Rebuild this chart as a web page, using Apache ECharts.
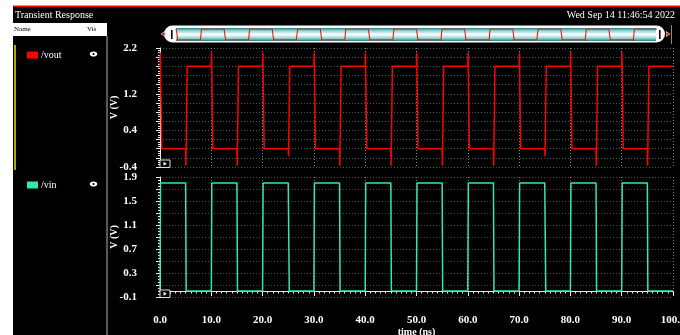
<!DOCTYPE html>
<html>
<head>
<meta charset="utf-8">
<script src="https://cdn.jsdelivr.net/npm/echarts@6/dist/echarts.min.js"></script>
<style>
html,body{margin:0;padding:0;background:#fff;}
#chart{width:680px;height:335px;}
</style>
</head>
<body>
<div id="chart"></div>
<script>
// ---- data ----
const titleText = 'Transient Response';
const dateText = 'Wed Sep 14 11:46:54 2022';
const seriesNames = ['/vout', '/vin'];
const timeTicks = [0, 10, 20, 30, 40, 50, 60, 70, 80, 90, 100];
const voutTicks = [2.2, 1.2, 0.4, -0.4];
const vinTicks = [1.9, 1.5, 1.1, 0.7, 0.3, -0.1];

// /vout (V) vs time (ns)
const voutT = [0, 0.05, 0.2, 0.35, 5, 5.05, 5.3, 10, 10.05, 10.3, 15, 15.05, 15.3, 20, 20.05, 20.3,
  25, 25.05, 25.3, 30, 30.05, 30.3, 35, 35.05, 35.3, 40, 40.05, 40.3, 45, 45.05, 45.3,
  50, 50.05, 50.3, 55, 55.05, 55.3, 60, 60.05, 60.3, 65, 65.05, 65.3, 70, 70.05, 70.3,
  75, 75.05, 75.3, 80, 80.05, 80.3, 85, 85.05, 85.3, 90, 90.05, 90.3, 95, 95.05, 95.3, 100];
const voutV = [1.8, 2.1, 1.0, 0, 0, -0.37, 1.8, 1.8, 2.1, 0, 0, -0.37, 1.8, 1.8, 2.1, 0,
  0, -0.17, 1.8, 1.8, 2.1, 0, 0, -0.37, 1.8, 1.8, 2.1, 0, 0, -0.37, 1.8,
  1.8, 2.1, 0, 0, -0.37, 1.8, 1.8, 2.1, 0, 0, -0.37, 1.8, 1.8, 2.1, 0,
  0, -0.17, 1.8, 1.8, 2.11, 0, 0, -0.37, 1.8, 1.8, 2.11, 0, 0, -0.37, 1.8, 1.8];

// /vin (V) vs time (ns)
const vinT = [0, 0.1, 5, 5.1, 10, 10.1, 15, 15.1, 20, 20.1, 25, 25.1, 25.2, 30, 30.1, 35, 35.1,
  40, 40.1, 45, 45.1, 50, 50.1, 55, 55.1, 60, 60.1, 65, 65.1, 70, 70.1, 75, 75.1, 75.2,
  80, 80.1, 85, 85.1, 90, 90.1, 95, 95.1, 100];
const vinV = [0, 1.8, 1.8, 0, 0, 1.8, 1.8, 0, 0, 1.8, 1.8, 0.9, 0, 0, 1.8, 1.8, 0,
  0, 1.8, 1.8, 0, 0, 1.8, 1.8, 0, 0, 1.8, 1.8, 0, 0, 1.8, 1.8, 0.9, 0,
  0, 1.8, 1.8, 0, 0, 1.8, 1.8, 0, 0];

const zip = (a, b) => a.map((t, i) => [t, b[i]]);
const voutData = zip(voutT, voutV);
const vinData = zip(vinT, vinV);

const RED = '#ff0000';
const CYAN = '#2fe8b8';
const FONT = "'Liberation Serif','DejaVu Serif',serif";

function pick(list) {
  return function (v) {
    const r = Math.round(v * 10) / 10;
    return list.some(x => Math.abs(x - r) < 1e-6) ? r.toFixed(1) : '';
  };
}

const chart = echarts.init(document.getElementById('chart'), null, {renderer: 'canvas'});

const yCommon = {
  type: 'value',
  offset: 10,
  axisLine: {show: true, lineStyle: {color: '#e8e8e8', width: 1}},
  axisTick: {show: true, length: 4, lineStyle: {color: '#e8e8e8'}},
  minorTick: {show: true, splitNumber: 4, length: 2, lineStyle: {color: '#e8e8e8'}},
  axisLabel: {color: '#fff', fontFamily: FONT, fontWeight: 'bold', fontSize: 11, margin: 13},
  name: 'V (V)',
  nameLocation: 'middle',
  nameGap: 31,
  nameMoveOverlap: false,
  nameTextStyle: {color: '#fff', fontFamily: FONT, fontWeight: 'bold', fontSize: 10}
};

const option = {
  animation: false,
  backgroundColor: '#ffffff',
  graphic: [
    {type: 'rect', silent: true, z: -10, shape: {x: 13, y: 7, width: 667, height: 328}, style: {fill: '#000'}},
    {type: 'line', silent: true, shape: {x1: 13, y1: 6.3, x2: 680, y2: 6.3}, style: {stroke: RED, lineWidth: 1.5}},
    {type: 'text', silent: true, style: {text: titleText, x: 15, y: 15, fill: '#fff', font: '10px ' + FONT, verticalAlign: 'middle'}},
    {type: 'text', silent: true, style: {text: dateText, x: 675, y: 15, fill: '#fff', font: '10px ' + FONT, align: 'right', verticalAlign: 'middle'}},
    {type: 'rect', silent: true, shape: {x: 13, y: 23, width: 94, height: 13}, style: {fill: '#fff'}},
    {type: 'text', silent: true, style: {text: 'Name', x: 14, y: 29.5, fill: '#000', font: '7px ' + FONT, verticalAlign: 'middle'}},
    {type: 'text', silent: true, style: {text: 'Vis', x: 87, y: 29.5, fill: '#000', font: '7px ' + FONT, verticalAlign: 'middle'}},
    {type: 'line', silent: true, shape: {x1: 107, y1: 36, x2: 107, y2: 335}, style: {stroke: '#b0b0b0', lineWidth: 1}},
    {type: 'line', silent: true, shape: {x1: 15, y1: 45, x2: 15, y2: 170}, style: {stroke: '#e6e600', lineWidth: 1.5}},
    // eye icons
    {type: 'ellipse', silent: true, shape: {cx: 93.5, cy: 54, rx: 3.8, ry: 2.6}, style: {fill: '#fff'}},
    {type: 'circle', silent: true, shape: {cx: 93.5, cy: 54, r: 1.1}, style: {fill: '#000'}},
    {type: 'ellipse', silent: true, shape: {cx: 93.5, cy: 184, rx: 3.8, ry: 2.6}, style: {fill: '#fff'}},
    {type: 'circle', silent: true, shape: {cx: 93.5, cy: 184, r: 1.1}, style: {fill: '#000'}},
    // scrollbar frame
    {type: 'rect', silent: true, z: -5, shape: {x: 164, y: 25.5, width: 501, height: 17, r: 8.5}, style: {fill: '#fff'}},
    {type: 'rect', silent: true, z: -4, shape: {x: 176, y: 28, width: 480, height: 13},
      style: {fill: new echarts.graphic.LinearGradient(0, 0, 0, 1, [
        {offset: 0, color: '#2c7a80'}, {offset: 0.22, color: '#8ed8d8'},
        {offset: 0.5, color: '#ffffff'}, {offset: 0.78, color: '#8ed8d8'}, {offset: 1, color: '#2c7a80'}])}},
    {type: 'rect', silent: true, shape: {x: 171, y: 30, width: 1.6, height: 9}, style: {fill: '#000'}},
    {type: 'rect', silent: true, shape: {x: 659, y: 30, width: 1.6, height: 9}, style: {fill: '#000'}},
    {type: 'polygon', silent: true, shape: {points: [[160.5, 34], [165, 31], [165, 37]]}, style: {fill: '#d0d0d0'}},
    {type: 'polygon', silent: true, shape: {points: [[161.5, 34], [164.5, 32.3], [164.5, 35.7]]}, style: {fill: RED}},
    {type: 'polygon', silent: true, shape: {points: [[670.5, 34], [666, 31], [666, 37]]}, style: {fill: '#d0d0d0'}},
    {type: 'polygon', silent: true, shape: {points: [[669.5, 34], [666.5, 32.3], [666.5, 35.7]]}, style: {fill: RED}},
    {type: 'line', silent: true, shape: {x1: 671.5, y1: 25, x2: 671.5, y2: 44}, style: {stroke: '#888', lineWidth: 1}},
    // play boxes
    {type: 'rect', silent: true, z: 10, shape: {x: 160, y: 160, width: 10, height: 7.5}, style: {fill: '#000', stroke: '#e0e0e0', lineWidth: 1}},
    {type: 'polygon', silent: true, z: 11, shape: {points: [[163.5, 161.8], [163.5, 165.7], [166.8, 163.75]]}, style: {fill: '#fff'}},
    {type: 'rect', silent: true, z: 10, shape: {x: 160, y: 290, width: 10, height: 7.5}, style: {fill: '#000', stroke: '#e0e0e0', lineWidth: 1}},
    {type: 'polygon', silent: true, z: 11, shape: {points: [[163.5, 291.8], [163.5, 295.7], [166.8, 293.75]]}, style: {fill: '#fff'}}
  ],
  legend: {
    data: seriesNames,
    orient: 'vertical',
    left: 22,
    top: 45,
    itemWidth: 11,
    itemHeight: 7,
    itemGap: 120,
    icon: 'rect',
    selectedMode: false,
    textStyle: {color: '#fff', fontFamily: FONT, fontSize: 10, padding: [0, 0, 0, -2]}
  },
  grid: [
    {left: 160, top: 48, width: 513, height: 119, outerBoundsMode: 'none', containLabel: false},
    {left: 160, top: 177, width: 513, height: 120, outerBoundsMode: 'none', containLabel: false},
    {left: 176, top: 29, width: 481, height: 11, outerBoundsMode: 'none', containLabel: false}
  ],
  xAxis: [
    {gridIndex: 0, type: 'value', min: timeTicks[0], max: timeTicks[timeTicks.length - 1], interval: 10,
      axisLine: {show: false}, axisTick: {show: false}, axisLabel: {show: false},
      splitLine: {show: true, lineStyle: {color: '#8a8a8a', type: [1, 2], width: 1}}},
    {gridIndex: 1, type: 'value', min: timeTicks[0], max: timeTicks[timeTicks.length - 1], interval: 10,
      offset: 5,
      axisLine: {show: true, lineStyle: {color: '#e8e8e8'}},
      axisTick: {show: true, length: 5, lineStyle: {color: '#e8e8e8'}},
      minorTick: {show: true, splitNumber: 10, length: 2.5, lineStyle: {color: '#e8e8e8'}},
      axisLabel: {color: '#fff', fontFamily: FONT, fontWeight: 'bold', fontSize: 11, margin: 13,
        formatter: v => v.toFixed(1)},
      splitLine: {show: true, lineStyle: {color: '#7a7a7a', type: [1, 2], width: 1}},
      name: 'time (ns)', nameLocation: 'middle', nameGap: 25, nameMoveOverlap: false,
      nameTextStyle: {color: '#fff', fontFamily: FONT, fontWeight: 'bold', fontSize: 10}},
    {gridIndex: 2, type: 'value', min: 0, max: 100, show: false}
  ],
  yAxis: [
    Object.assign({}, yCommon, {gridIndex: 0, min: -0.4, max: 2.2, interval: 0.2,
      axisLabel: Object.assign({}, yCommon.axisLabel, {formatter: pick(voutTicks)}),
      splitLine: {show: true, lineStyle: {color: '#2f6464', type: [1, 2], width: 1}}}),
    Object.assign({}, yCommon, {gridIndex: 1, min: -0.1, max: 1.9, interval: 0.2,
      axisLabel: Object.assign({}, yCommon.axisLabel, {formatter: pick(vinTicks)}),
      splitLine: {show: true, lineStyle: {color: '#62384f', type: [1, 2], width: 1}}}),
    {gridIndex: 2, type: 'value', min: 0, max: 1.8, show: false}
  ],
  series: [
    {name: '/vout', type: 'line', xAxisIndex: 0, yAxisIndex: 0, data: voutData, showSymbol: false,
      color: RED, lineStyle: {color: RED, width: 1.5}, clip: true, z: 5},
    {name: '/vin', type: 'line', xAxisIndex: 1, yAxisIndex: 1, data: vinData, showSymbol: false,
      color: CYAN, lineStyle: {color: CYAN, width: 1.5}, clip: true, z: 5},
    {name: 'vout-overview', type: 'line', xAxisIndex: 2, yAxisIndex: 2, data: voutData, showSymbol: false,
      color: RED, lineStyle: {color: RED, width: 1, join: 'bevel', cap: 'butt'}, clip: true, z: 5}
  ]
};
chart.setOption(option);
</script>
</body>
</html>
